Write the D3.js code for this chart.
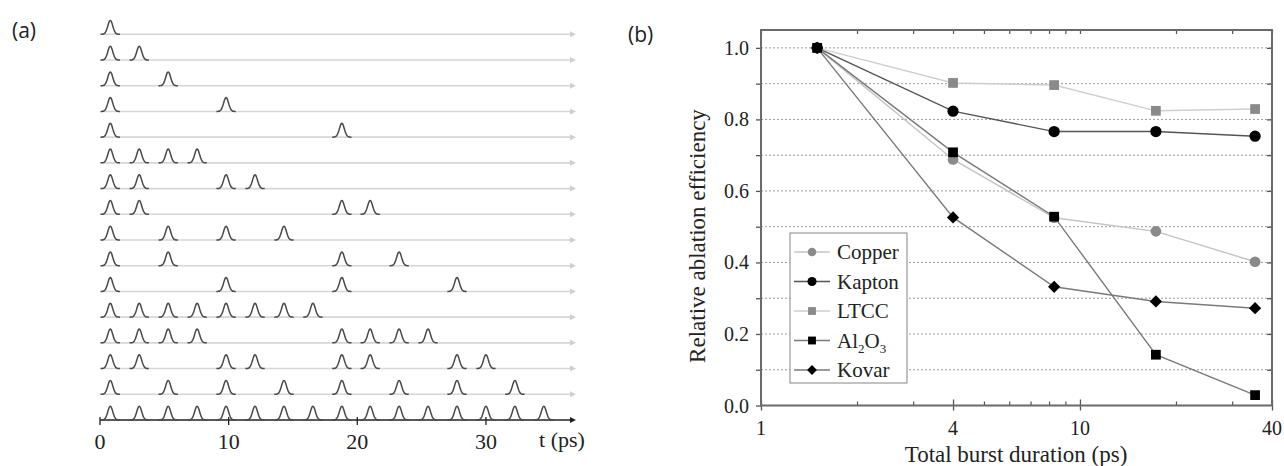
<!DOCTYPE html>
<html lang="en">
<head>
<meta charset="UTF-8">
<title>Burst pulses and ablation efficiency</title>
<script src="https://d3js.org/d3.v7.min.js"></script>
<style>
    body { margin: 0; background: #fff; }
    svg { display: block; }
    .serif { font-family: "Liberation Serif", "DejaVu Serif", serif; fill: #222; }
    .panel-label { font-family: "Open Sans", "Liberation Sans", Arial, sans-serif; font-size: 21px; fill: #222; }
</style>
</head>
<body>
<div id="chart"></div>
<script>
    // ---- panel (a): pulse trains ----
    const pulseTimes = [0.8, 3.05, 5.3, 7.55, 9.8, 12.05, 14.3, 16.55, 18.8, 21.0, 23.25, 25.5, 27.75, 30.0, 32.25, 34.5];
    const pulseRows = [
        [0],
        [0, 1],
        [0, 2],
        [0, 4],
        [0, 8],
        [0, 1, 2, 3],
        [0, 1, 4, 5],
        [0, 1, 8, 9],
        [0, 2, 4, 6],
        [0, 2, 8, 10],
        [0, 4, 8, 12],
        [0, 1, 2, 3, 4, 5, 6, 7],
        [0, 1, 2, 3, 8, 9, 10, 11],
        [0, 1, 4, 5, 8, 9, 12, 13],
        [0, 2, 4, 6, 8, 10, 12, 14],
        [0, 1, 2, 3, 4, 5, 6, 7, 8, 9, 10, 11, 12, 13, 14, 15]
    ];
    const timeTicks = [0, 10, 20, 30];

    // ---- panel (b): relative ablation efficiency ----
    const burstDurations = [1.5, 4, 8.3, 17.3, 35.4];
    const copper = [1.0, 0.688, 0.525, 0.487, 0.402];
    const kapton = [1.0, 0.823, 0.766, 0.766, 0.753];
    const ltcc   = [1.0, 0.902, 0.896, 0.824, 0.829];
    const al2o3  = [1.0, 0.708, 0.528, 0.142, 0.029];
    const kovar  = [1.0, 0.526, 0.332, 0.291, 0.272];
    const seriesNames = ["Copper", "Kapton", "LTCC", "Al2O3", "Kovar"];
    const durationTicks = [1, 4, 10, 40];
    const minorDurationTicks = [2, 3, 5, 6, 7, 8, 9, 20, 30];
    const efficiencyTicks = [0, 0.2, 0.4, 0.6, 0.8, 1.0];
    const gridLevels = [0.1, 0.2, 0.3, 0.4, 0.5, 0.6, 0.7, 0.8, 0.9, 1.0];

    const W = 1284, H = 466;
    const svg = d3.select("#chart").append("svg")
        .attr("width", W)
        .attr("height", H);

    // ================= panel (a) =================
    svg.append("text").attr("class", "panel-label")
        .attr("x", 12).attr("y", 38).text("(a)");

    const xA = d3.scaleLinear().domain([0, 37]).range([100, 576]);
    const yRow = d3.scaleLinear().domain([0, pulseRows.length - 1]).range([34.3, 420]);
    const pulseH = 14, sigma = 0.19;

    const gA = svg.append("g");
    const lastRow = pulseRows.length - 1;

    // baselines with arrowheads
    pulseRows.forEach((row, i) => {
        const yy = yRow(i);
        const isAxis = i === lastRow;
        gA.append("line")
            .attr("x1", xA(0)).attr("x2", xA(37) - 3)
            .attr("y1", yy).attr("y2", yy)
            .attr("stroke", isAxis ? "#222" : "#d6d6d6")
            .attr("stroke-width", 1.6);
        const ax = xA(37);
        gA.append("path")
            .attr("d", `M${ax},${yy} L${ax - 6},${yy - 3} L${ax - 6},${yy + 3} Z`)
            .attr("fill", isAxis ? "#222" : "#cfcfcf");
    });

    // axis ticks + labels
    timeTicks.forEach(t => {
        gA.append("line")
            .attr("x1", xA(t)).attr("x2", xA(t))
            .attr("y1", yRow(lastRow) - 3).attr("y2", yRow(lastRow) + 5)
            .attr("stroke", "#222").attr("stroke-width", 1.3);
        gA.append("text").attr("class", "serif")
            .attr("x", xA(t)).attr("y", 449)
            .attr("text-anchor", "middle")
            .style("font-size", "22px")
            .text(t);
    });
    gA.append("text").attr("class", "serif")
        .attr("x", 562).attr("y", 447)
        .attr("text-anchor", "middle")
        .style("font-size", "22px")
        .text("t (ps)");

    // gaussian pulses
    const offsets = d3.range(-0.75, 0.7501, 0.05);
    const pulseLine = d3.line().curve(d3.curveBasis);
    pulseRows.forEach((row, i) => {
        const base = yRow(i);
        row.forEach(k => {
            const t0 = pulseTimes[k];
            const pts = offsets.map(dt => [
                xA(t0 + dt),
                base - pulseH * Math.exp(-dt * dt / (2 * sigma * sigma))
            ]);
            gA.append("path")
                .attr("d", pulseLine(pts))
                .attr("fill", "none")
                .attr("stroke", "#4a4a4a")
                .attr("stroke-width", 1.5);
        });
    });

    // ================= panel (b) =================
    svg.append("text").attr("class", "panel-label")
        .attr("x", 628).attr("y", 42).text("(b)");

    const pLeft = 761, pRight = 1272, pTop = 30, pBottom = 405.5;
    const x = d3.scaleLog().domain([1, 40]).range([pLeft, pRight]);
    const y = d3.scaleLinear().domain([0, 1.05]).range([pBottom, pTop]);

    const gB = svg.append("g");

    // dotted grid
    gB.selectAll(".grid").data(gridLevels).enter().append("line")
        .attr("x1", pLeft).attr("x2", pRight)
        .attr("y1", d => y(d)).attr("y2", d => y(d))
        .attr("stroke", "#9a9a9a")
        .attr("stroke-width", 1)
        .attr("stroke-dasharray", "2,2");

    // left axis
    gB.append("g")
        .attr("transform", `translate(${pLeft},0)`)
        .call(d3.axisLeft(y).tickValues(gridLevels.concat([0])).tickSize(5).tickFormat(""))
        .call(g => g.select(".domain").remove())
        .call(g => g.selectAll("line").attr("stroke", "#555").attr("stroke-width", 1.3));
    gB.selectAll(".ylab").data(efficiencyTicks).enter().append("text")
        .attr("class", "serif")
        .attr("x", 749).attr("y", d => y(d))
        .attr("dy", "0.35em")
        .attr("text-anchor", "end")
        .style("font-size", "20px")
        .text(d => d3.format(".1f")(d));

    // right axis (inward ticks)
    gB.append("g")
        .attr("transform", `translate(${pRight},0)`)
        .call(d3.axisLeft(y).tickValues(gridLevels).tickSize(5).tickFormat(""))
        .call(g => g.select(".domain").remove())
        .call(g => g.selectAll("line").attr("stroke", "#555").attr("stroke-width", 1.3));

    // bottom axis: major ticks through the frame, minor inward
    gB.append("g")
        .attr("transform", `translate(0,${pBottom})`)
        .call(d3.axisBottom(x).tickValues(durationTicks).tickSize(5).tickFormat(""))
        .call(g => g.select(".domain").remove())
        .call(g => g.selectAll("line").attr("y1", -6).attr("stroke", "#555").attr("stroke-width", 1.3));
    gB.append("g")
        .attr("transform", `translate(0,${pBottom})`)
        .call(d3.axisTop(x).tickValues(minorDurationTicks).tickSize(4).tickFormat(""))
        .call(g => g.select(".domain").remove())
        .call(g => g.selectAll("line").attr("stroke", "#555").attr("stroke-width", 1.2));
    gB.selectAll(".xlab").data(durationTicks).enter().append("text")
        .attr("class", "serif")
        .attr("x", d => x(d)).attr("y", 435)
        .attr("text-anchor", "middle")
        .style("font-size", "20px")
        .text(d => d);

    // top axis: inward ticks
    gB.append("g")
        .attr("transform", `translate(0,${pTop})`)
        .call(d3.axisBottom(x).tickValues(durationTicks.concat(minorDurationTicks)).tickSize(4).tickFormat(""))
        .call(g => g.select(".domain").remove())
        .call(g => g.selectAll("line").attr("stroke", "#555").attr("stroke-width", 1.2));

    // frame
    gB.append("rect")
        .attr("x", pLeft).attr("y", pTop)
        .attr("width", pRight - pLeft).attr("height", pBottom - pTop)
        .attr("fill", "none")
        .attr("stroke", "#6a6a6a")
        .attr("stroke-width", 2);

    // axis titles
    gB.append("text").attr("class", "serif")
        .attr("transform", "translate(705,236) rotate(-90)")
        .attr("text-anchor", "middle")
        .style("font-size", "23px")
        .text("Relative ablation efficiency");
    gB.append("text").attr("class", "serif")
        .attr("x", 1016).attr("y", 462)
        .attr("text-anchor", "middle")
        .style("font-size", "23px")
        .text("Total burst duration (ps)");

    // series
    const seriesValues = [copper, kapton, ltcc, al2o3, kovar];
    const styles = [
        { line: "#c4c4c4", fill: "#8a8a8a", shape: d3.symbolCircle, size: 90, rot: 0 },
        { line: "#555555", fill: "#000000", shape: d3.symbolCircle, size: 100, rot: 0 },
        { line: "#cfcfcf", fill: "#8a8a8a", shape: d3.symbolSquare, size: 95, rot: 0 },
        { line: "#7a7a7a", fill: "#000000", shape: d3.symbolSquare, size: 95, rot: 0 },
        { line: "#7a7a7a", fill: "#000000", shape: d3.symbolSquare, size: 75, rot: 45 }
    ];

    const line = d3.line()
        .x((d, i) => x(burstDurations[i]))
        .y(d => y(d));

    seriesValues.forEach((vals, s) => {
        gB.append("path")
            .attr("d", line(vals))
            .attr("fill", "none")
            .attr("stroke", styles[s].line)
            .attr("stroke-width", 1.4);
    });
    seriesValues.forEach((vals, s) => {
        gB.selectAll(".pt" + s).data(vals).enter().append("path")
            .attr("transform", (d, i) => `translate(${x(burstDurations[i])},${y(d)}) rotate(${styles[s].rot})`)
            .attr("d", d3.symbol().type(styles[s].shape).size(styles[s].size))
            .attr("fill", styles[s].fill);
    });

    // legend
    const leg = gB.append("g");
    leg.append("rect")
        .attr("x", 790).attr("y", 233)
        .attr("width", 117).attr("height", 150)
        .attr("fill", "#fff")
        .attr("stroke", "#9a9a9a")
        .attr("stroke-width", 1.2);
    seriesNames.forEach((name, s) => {
        const ly = 252 + s * 29.5;
        leg.append("line")
            .attr("x1", 794).attr("x2", 830)
            .attr("y1", ly).attr("y2", ly)
            .attr("stroke", styles[s].line)
            .attr("stroke-width", 1.3);
        leg.append("path")
            .attr("transform", `translate(812,${ly}) rotate(${styles[s].rot})`)
            .attr("d", d3.symbol().type(styles[s].shape).size(styles[s].size * 0.65))
            .attr("fill", styles[s].fill);
        const t = leg.append("text").attr("class", "serif")
            .attr("x", 837).attr("y", ly)
            .attr("dy", "0.35em")
            .style("font-size", "21px");
        if (name === "Al2O3") {
            t.append("tspan").text("Al");
            t.append("tspan").attr("dy", 5).style("font-size", "13px").text("2");
            t.append("tspan").attr("dy", -5).text("O");
            t.append("tspan").attr("dy", 5).style("font-size", "13px").text("3");
        } else {
            t.text(name);
        }
    });
</script>
</body>
</html>
